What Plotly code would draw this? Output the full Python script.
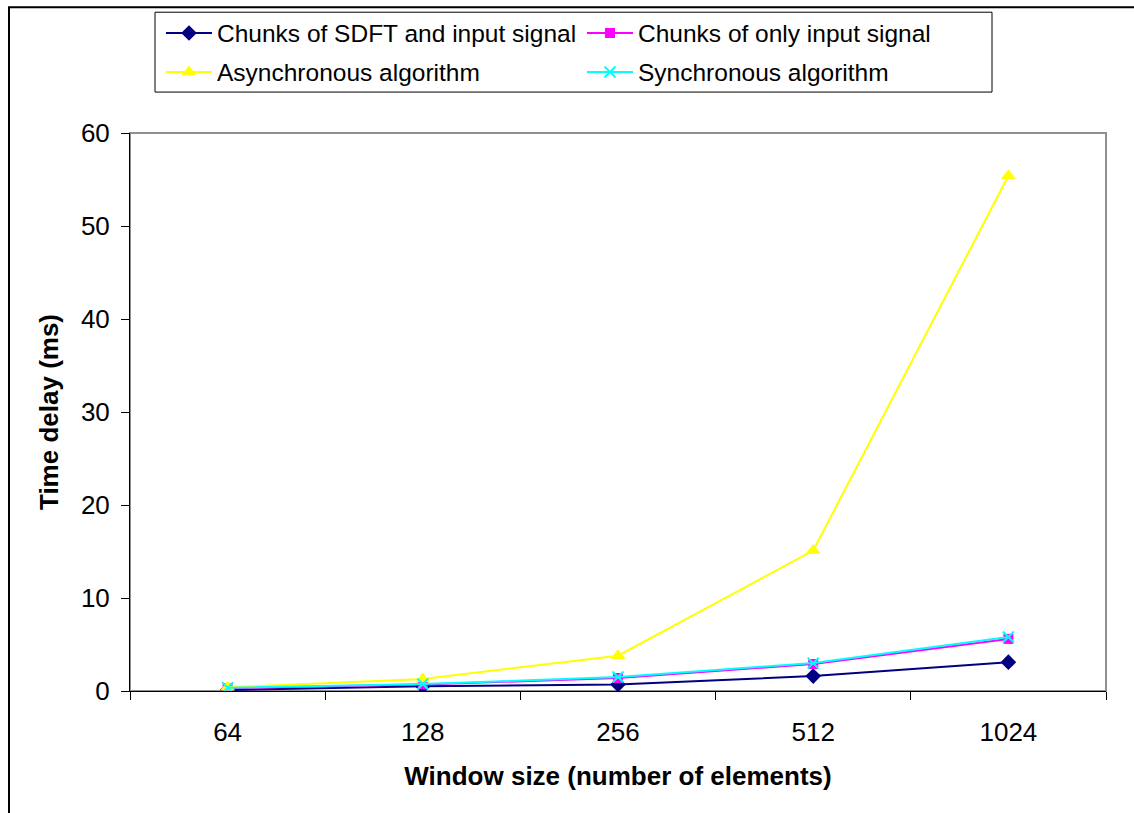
import plotly.graph_objects as go

# Window sizes (category axis) and measured time delays in ms
window_sizes = ["64", "128", "256", "512", "1024"]
sdft_chunks = [0.1, 0.5, 0.7, 1.6, 3.1]
input_chunks = [0.3, 0.7, 1.4, 2.9, 5.6]
async_alg = [0.4, 1.3, 3.8, 15.1, 55.4]
sync_alg = [0.35, 0.75, 1.5, 3.0, 5.8]

FONT = "Liberation Sans, Arial, sans-serif"

fig = go.Figure()
fig.add_trace(go.Scatter(
    x=window_sizes, y=sdft_chunks, name="Chunks of SDFT and input signal",
    mode="lines+markers", line=dict(color="#000080", width=2),
    marker=dict(symbol="diamond", size=12, color="#000080"), legend="legend"))
fig.add_trace(go.Scatter(
    x=window_sizes, y=input_chunks, name="Chunks of only input signal",
    mode="lines+markers", line=dict(color="#FF00FF", width=2),
    marker=dict(symbol="square", size=10, color="#FF00FF"), legend="legend"))
fig.add_trace(go.Scatter(
    x=window_sizes, y=async_alg, name="Asynchronous algorithm",
    mode="lines+markers", line=dict(color="#FFFF00", width=2),
    marker=dict(symbol="triangle-up", size=13, color="#FFFF00"), legend="legend2"))
fig.add_trace(go.Scatter(
    x=window_sizes, y=sync_alg, name="Synchronous algorithm",
    mode="lines+markers", line=dict(color="#00FFFF", width=2),
    marker=dict(symbol="x-thin", size=11, line=dict(color="#00FFFF", width=2)),
    legend="legend2"))

L, R, T, B = 130, 28, 132, 122
W, H = 1134, 813
pw, ph = W - L - R, H - T - B


def px_x(px):
    return (px - L) / pw


def px_y(py):
    return (H - B - py) / ph


legend_common = dict(
    orientation="h", xanchor="left", yanchor="middle",
    x=px_x(161), bgcolor="rgba(0,0,0,0)", borderwidth=0,
    font=dict(family=FONT, size=24.5, color="black"),
    itemwidth=46,
    entrywidth=360, entrywidthmode="pixels", traceorder="normal",
)

fig.update_layout(
    width=W, height=H,
    margin=dict(l=L, r=R, t=T, b=B),
    paper_bgcolor="white", plot_bgcolor="white",
    font=dict(family=FONT, size=24, color="black"),
    showlegend=True,
    legend=dict(y=px_y(33), **legend_common),
    legend2=dict(y=px_y(72), **legend_common),
    xaxis=dict(
        type="category", range=[-0.5, 4.5],
        showline=True, linecolor="black", linewidth=1,
        ticks="outside", tickson="boundaries", ticklen=8, tickcolor="black",
        showgrid=False, zeroline=False,
        tickfont=dict(family=FONT, size=26), ticklabelstandoff=18,
        title=dict(text="<b>Window size (number of elements)</b>",
                   font=dict(family=FONT, size=26), standoff=20),
    ),
    yaxis=dict(
        range=[0, 60], dtick=10,
        showline=True, linecolor="black", linewidth=1,
        ticks="outside", ticklen=8, tickcolor="black",
        showgrid=False, zeroline=False,
        tickfont=dict(family=FONT, size=26), ticklabelstandoff=6,
        title=dict(text="<b>Time delay (ms)</b>",
                   font=dict(family=FONT, size=26), standoff=14),
    ),
    shapes=[
        # grey frame around the plot area
        dict(type="rect", xref="paper", yref="paper", x0=0, x1=1, y0=0, y1=1,
             line=dict(color="#909090", width=2), layer="below"),
        # legend box
        dict(type="rect", xref="paper", yref="paper",
             x0=px_x(155), x1=px_x(992), y0=px_y(91), y1=px_y(11),
             line=dict(color="black", width=1)),
        # outer chart frame
        dict(type="rect", xref="paper", yref="paper",
             x0=px_x(9), x1=px_x(1145), y0=px_y(830), y1=px_y(6),
             line=dict(color="black", width=2)),
    ],
)

fig.write_html("out.html")
